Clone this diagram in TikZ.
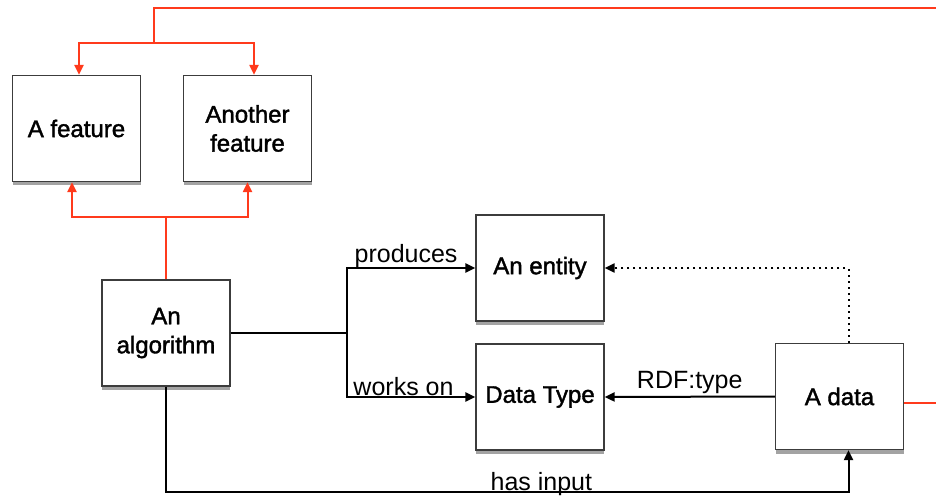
\documentclass[tikz,border=0pt]{standalone}
\usepackage{fontspec}
\setmainfont{Liberation Sans}
\newfontfamily\boxfont[FakeBold=1.6]{Liberation Sans}
\usepackage{tikz}
\usetikzlibrary{arrows.meta,shadows,calc,positioning}
\usepackage{xcolor}
\definecolor{lred}{RGB}{255,58,28}
\definecolor{lframe}{RGB}{60,60,60}

\begin{document}
\begin{tikzpicture}[x=0.5pt,y=-0.5pt,>={Triangle[length=5pt,width=4.5pt]},
  box/.style={draw=lframe,line width=0.6pt,fill=white,minimum width=64pt,minimum height=53pt,
    align=center,font=\boxfont\fontsize{12}{14.5}\selectfont,
    drop shadow={shadow xshift=0pt,shadow yshift=-2pt,opacity=0.45,fill=black!80}},
  conn/.style={line width=1pt,black},
  rconn/.style={line width=1pt,lred},
  lbl/.style={font=\fontsize{12.5}{14}\selectfont,inner sep=1pt}]
  \useasboundingbox (0,0) rectangle (936,497);
  % boxes
  \node[box] (feat) at (76.5,128.5) {A feature};
  \node[box] (featb) at (247.5,128.5) {Another\\feature};
  \node[box] (algo) at (166,333) {An\\algorithm};
  \node[box] (entity) at (540,268) {An entity};
  \node[box] (dtype) at (540,397) {Data Type};
  \node[box] (adata) at (839.5,396.5) {A data};
  % red links
  \coordinate (topR) at (936,8);
  \coordinate (tsplit) at (154,43);
  \draw[rconn] (topR) -| (tsplit);
  \draw[rconn,->] (tsplit) -| ([xshift=1.25pt]feat.north);
  \draw[rconn,->] (tsplit) -| ([xshift=3.25pt]featb.north);
  \coordinate (bsplit) at (166,217);
  \draw[rconn] (algo.north) -- (bsplit);
  \draw[rconn,->] (bsplit) -| ([xshift=-2.25pt]feat.south);
  \draw[rconn,->] (bsplit) -| (featb.south);
  \coordinate (rightR) at (936,403);
  \draw[rconn] (adata.east |- rightR) -- (rightR);
  % black links
  \coordinate (fork) at (347,333);
  \draw[conn] (algo.east) -- (fork);
  \draw[conn,->] (fork) |- node[lbl,above,pos=0.73,yshift=-1.5pt]{produces} (entity.west);
  \draw[conn,->] (fork) |- node[lbl,above,pos=0.72,yshift=-1pt]{works on} (dtype.west);
  \draw[conn,->] (adata.west) -- node[lbl,above]{RDF:type} (dtype.east);
  \draw[conn,->,dotted] ([xshift=4.5pt]adata.north) |- (entity.east);
  \coordinate (hbot) at (166,492);
  \draw[conn,->] (algo.south) -- (hbot) -| node[lbl,above,pos=0.275,yshift=-3.5pt]{has input} ([xshift=4.5pt]adata.south);
\end{tikzpicture}
\end{document}
